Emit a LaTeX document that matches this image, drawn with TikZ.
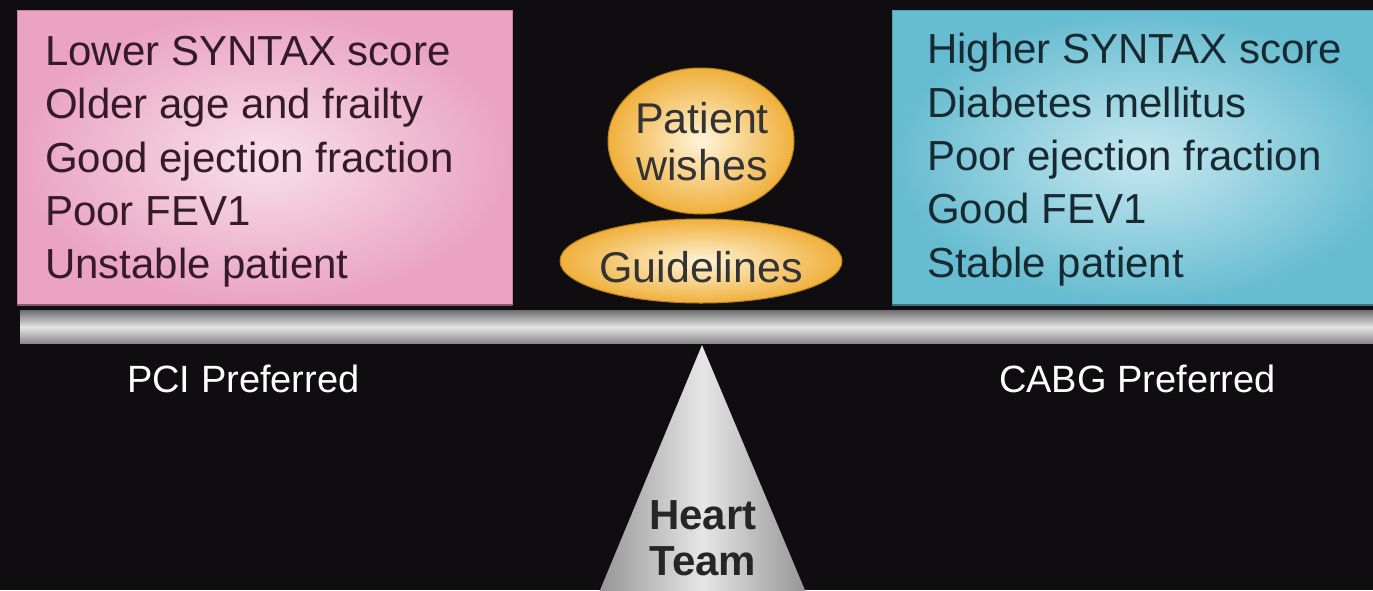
\documentclass[tikz,border=0pt]{standalone}
\usepackage{fontspec}
\setmainfont{Liberation Sans}
\usetikzlibrary{shapes.geometric}

\definecolor{bg}{HTML}{0F0D0F}
\definecolor{pinkout}{HTML}{EAA3C1}
\definecolor{pinkin}{HTML}{F8E0EA}
\definecolor{pinkedge}{HTML}{C2809E}
\definecolor{pinktext}{HTML}{351A27}
\definecolor{blueout}{HTML}{66BCD0}
\definecolor{bluein}{HTML}{C6E7F0}
\definecolor{blueedge}{HTML}{559FB1}
\definecolor{bluetext}{HTML}{182A31}
\definecolor{goldout}{HTML}{F0B03C}
\definecolor{goldin}{HTML}{FFF4D8}
\definecolor{goldedge}{HTML}{B98418}
\definecolor{beamdark}{HTML}{8A8A8A}
\definecolor{beamlight}{HTML}{E4E4E4}
\definecolor{tridark}{HTML}{959595}
\definecolor{trilight}{HTML}{E6E6E6}

\tikzset{
  listtext/.style={anchor=base west, inner sep=0pt, font=\fontsize{42}{42}\selectfont},
  pinkline/.style={listtext, text=pinktext},
  blueline/.style={listtext, text=bluetext},
  disc/.style={ellipse, inner sep=0pt, draw=goldedge, line width=1pt,
               inner color=goldin, outer color=goldout},
  disctext/.style={anchor=base, inner sep=0pt, text=black!80,
                   font=\fontsize{43}{43}\selectfont},
  teamtext/.style={anchor=base, inner sep=0pt, text=black!85,
                   font=\fontsize{42}{42}\selectfont\bfseries},
  preftext/.style={anchor=base west, inner sep=0pt, text=white,
                   font=\fontsize{38}{38}\selectfont},
}

\begin{document}
\begin{tikzpicture}[x=1pt,y=-1pt]
\useasboundingbox (0,0) rectangle (1373,590);
\clip (0,0) rectangle (1373,590);
\fill[bg] (0,0) rectangle (1373,590);

% fulcrum
\shade[left color=tridark, right color=tridark, middle color=trilight]
  (702,345) -- (598,595) -- (807,595) -- cycle;
\node[teamtext] (heart) at (703,529) {Heart};
\node[teamtext] (team) at (703,575) {Team};

% beam
\shade[top color=beamdark!80!black, bottom color=beamlight] (20,310) rectangle (1373,327);
\shade[top color=beamlight, bottom color=beamdark] (20,327) rectangle (1373,343);

% PCI side
\shade[inner color=pinkin, outer color=pinkout] (17,10) rectangle (512,305);
\draw[pinkedge, line width=1pt] (17,305) -- (17,10) -- (512,10) -- (512,305);
\draw[pinkedge!70!black, line width=2pt] (17,305) -- (512,305);
\node[pinkline] (p1) at (45,65)  {Lower SYNTAX score};
\node[pinkline] (p2) at (45,118) {Older age and frailty};
\node[pinkline] (p3) at (45,172) {Good ejection fraction};
\node[pinkline] (p4) at (45,225) {Poor FEV1};
\node[pinkline] (p5) at (45,278) {Unstable patient};

% CABG side
\shade[inner color=bluein, outer color=blueout] (892,10) rectangle (1395,305);
\draw[blueedge, line width=1pt] (892,305) -- (892,10) -- (1395,10);
\draw[blueedge!70!black, line width=2pt] (892,305) -- (1395,305);
\node[blueline] (c1) at (927,63)  {Higher SYNTAX score};
\node[blueline] (c2) at (927,117) {Diabetes mellitus};
\node[blueline] (c3) at (927,170) {Poor ejection fraction};
\node[blueline] (c4) at (927,223) {Good FEV1};
\node[blueline] (c5) at (927,277) {Stable patient};

% weights in the middle
\node[disc, minimum width=186pt, minimum height=146pt] (wishes) at (701,141) {};
\node[disc, minimum width=282pt, minimum height=84pt] (guide) at (701,261) {};
\node[disctext] (w1) at (702,133) {Patient};
\node[disctext] (w2) at (702,180) {wishes};
\node[disctext] (g1) at (701,282) {Guidelines};

% captions under the beam
\node[preftext] (pci) at (127,392) {PCI Preferred};
\node[preftext] (cabg) at (999,392) {CABG Preferred};
\end{tikzpicture}
\end{document}
